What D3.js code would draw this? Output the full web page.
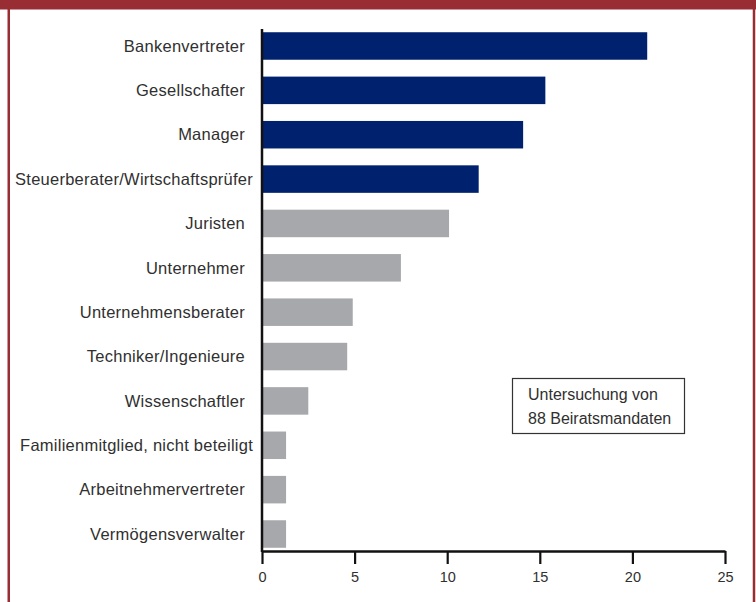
<!DOCTYPE html>
<html>
<head>
<meta charset="utf-8">
<script src="https://cdn.jsdelivr.net/npm/d3@7"></script>
<style>
  html, body { margin: 0; padding: 0; background: #ffffff; }
  svg { display: block; }
</style>
</head>
<body>
<svg id="chart" width="756" height="602"></svg>
<script>
// ---- data ----
const categories = [
  "Bankenvertreter",
  "Gesellschafter",
  "Manager",
  "Steuerberater/Wirtschaftsprüfer",
  "Juristen",
  "Unternehmer",
  "Unternehmensberater",
  "Techniker/Ingenieure",
  "Wissenschaftler",
  "Familienmitglied, nicht beteiligt",
  "Arbeitnehmervertreter",
  "Vermögensverwalter"
];
const values = [20.8, 15.3, 14.1, 11.7, 10.1, 7.5, 4.9, 4.6, 2.5, 1.3, 1.3, 1.3];
const highlighted = [true, true, true, true, false, false, false, false, false, false, false, false];
const tickValues = [0, 5, 10, 15, 20, 25];
const noteLines = ["Untersuchung von", "88 Beiratsmandaten"];

// ---- styles ----
const NAVY = "#00226e";
const GRAY = "#a7a8ac";
const FRAME = "#992d34";
const TEXT = "#303030";

const svg = d3.select("#chart");

// frame
svg.append("rect").attr("x", 0).attr("y", 0).attr("width", 756).attr("height", 9.5).attr("fill", FRAME);
svg.append("line").attr("x1", 8.75).attr("x2", 8.75).attr("y1", 0).attr("y2", 602)
  .attr("stroke", FRAME).attr("stroke-width", 2.5);
svg.append("line").attr("x1", 754).attr("x2", 754).attr("y1", 0).attr("y2", 602)
  .attr("stroke", FRAME).attr("stroke-width", 2.5);

// scales
const x = d3.scaleLinear().domain([0, 25]).range([262, 725]);
const y = d3.scaleBand().domain(categories).range([23.8, 556.2]).paddingInner(0.38).paddingOuter(0.19);

const data = categories.map((c, i) => ({ cat: c, val: values[i], hi: highlighted[i] }));

// bars
svg.append("g").selectAll("rect").data(data).join("rect")
  .attr("x", x(0))
  .attr("y", d => y(d.cat))
  .attr("width", d => x(d.val) - x(0))
  .attr("height", y.bandwidth())
  .attr("fill", d => d.hi ? NAVY : GRAY);

// category labels
const labels = svg.append("g").selectAll("text").data(data).join("text")
  .attr("x", 245)
  .attr("y", d => y(d.cat) + y.bandwidth() / 2)
  .attr("dy", "0.35em")
  .attr("text-anchor", "end")
  .attr("font-family", "'Liberation Sans', Arial, sans-serif")
  .attr("font-size", 16.5)
  .attr("letter-spacing", 0.25)
  .attr("fill", TEXT)
  .text(d => d.cat);
labels.each(function() {
  if (this.getComputedTextLength() > 200) d3.select(this).attr("x", 253);
});

// x axis
const xAxis = d3.axisBottom(x).tickValues(tickValues).tickSize(13).tickSizeOuter(0).tickPadding(8);
const gx = svg.append("g").attr("transform", "translate(0,551)").call(xAxis);
gx.select(".domain").attr("stroke", "#111").attr("stroke-width", 2.4);
gx.selectAll(".tick line").attr("stroke", "#111").attr("stroke-width", 2.2);
gx.selectAll(".tick text")
  .attr("font-family", "'Liberation Sans', Arial, sans-serif")
  .attr("font-size", 14.5)
  .attr("fill", TEXT);

// y axis line
svg.append("line")
  .attr("x1", x(0)).attr("x2", x(0))
  .attr("y1", 29).attr("y2", 552)
  .attr("stroke", "#111").attr("stroke-width", 2.5);

// annotation box
const note = svg.append("g");
note.append("rect")
  .attr("x", 512.5).attr("y", 378.5).attr("width", 172).attr("height", 55)
  .attr("fill", "#fff").attr("stroke", "#333").attr("stroke-width", 1.2);
note.selectAll("text").data(noteLines).join("text")
  .attr("x", 528)
  .attr("y", (d, i) => 400 + i * 24)
  .attr("font-family", "'Liberation Sans', Arial, sans-serif")
  .attr("font-size", 16)
  .attr("fill", TEXT)
  .text(d => d);
</script>
</body>
</html>
